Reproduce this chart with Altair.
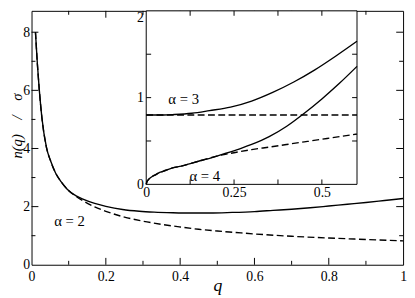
import altair as alt
import pandas as pd

# ---- main panel, alpha = 2 ----
q_full = [0.0106, 0.0158, 0.021, 0.028, 0.040, 0.052, 0.065, 0.080, 0.096, 0.12, 0.14, 0.17,
          0.20, 0.245, 0.29, 0.33, 0.38, 0.43, 0.48, 0.54, 0.60, 0.65, 0.70, 0.75, 0.80,
          0.85, 0.90, 0.95, 1.00]
n_full = [8.00, 6.90, 6.00, 5.05, 4.05, 3.55, 3.15, 2.85, 2.60, 2.37, 2.25, 2.11,
          2.01, 1.90, 1.84, 1.81, 1.79, 1.78, 1.78, 1.80, 1.83, 1.87, 1.91, 1.96, 2.02,
          2.08, 2.14, 2.21, 2.28]
q_dash = [0.0106, 0.0158, 0.021, 0.028, 0.040, 0.052, 0.065, 0.080, 0.096, 0.12, 0.14, 0.17,
          0.20, 0.25, 0.30, 0.35, 0.40, 0.45, 0.50, 0.55, 0.60, 0.70, 0.80, 0.90, 1.00]
n_dash = [8.00, 6.90, 6.00, 5.05, 4.05, 3.55, 3.15, 2.85, 2.60, 2.35, 2.19, 1.99,
          1.84, 1.64, 1.50, 1.39, 1.30, 1.22, 1.16, 1.11, 1.06, 0.98, 0.92, 0.87, 0.82]

# ---- inset, alpha = 3 and alpha = 4 ----
q3_full = [0.0, 0.05, 0.08, 0.13, 0.18, 0.24, 0.30, 0.36, 0.42, 0.48, 0.54, 0.60]
n3_full = [0.80, 0.80, 0.805, 0.82, 0.85, 0.89, 0.96, 1.06, 1.18, 1.32, 1.48, 1.65]
q3_dash = [0.0, 0.60]
n3_dash = [0.80, 0.80]
q4_full = [0.0, 0.002, 0.0075, 0.015, 0.026, 0.04, 0.054, 0.075, 0.10, 0.13, 0.156, 0.185,
           0.212, 0.24, 0.27, 0.30, 0.35, 0.40, 0.45, 0.50, 0.55, 0.60]
n4_full = [0.0, 0.03, 0.06, 0.085, 0.11, 0.14, 0.16, 0.19, 0.21, 0.245, 0.275, 0.305,
           0.34, 0.375, 0.415, 0.46, 0.55, 0.67, 0.82, 0.985, 1.165, 1.36]
q4_dash = [0.0, 0.002, 0.0075, 0.015, 0.026, 0.04, 0.054, 0.075, 0.10, 0.13, 0.156, 0.20,
           0.25, 0.30, 0.35, 0.40, 0.45, 0.50, 0.55, 0.60]
n4_dash = [0.0, 0.03, 0.06, 0.085, 0.11, 0.14, 0.16, 0.19, 0.21, 0.245, 0.275, 0.325,
           0.365, 0.40, 0.43, 0.46, 0.49, 0.52, 0.55, 0.58]

# axis ticks / labels
main_x_labels = [0, 0.2, 0.4, 0.6, 0.8, 1]
main_y_labels = [0, 2, 4, 6, 8]
main_x_major = [0.2, 0.4, 0.6, 0.8]
main_x_minor = [0.1, 0.3, 0.5, 0.7, 0.9]
main_y_major = [2, 4, 6, 8]
main_y_minor = [1, 3, 5, 7]
in_x_labels = [0, 0.25, 0.5]
in_y_labels = [0, 1, 2]
in_x_ticks = [0.125, 0.25, 0.375, 0.5]
in_y_ticks = [0.5, 1, 1.5]

labels_main = {"q": [0.061], "n": [1.35], "t": ["α = 2"]}
labels_inset = {"q": [0.063, 0.123], "n": [0.93, 0.04], "t": ["α = 3", "α = 4"]}

FONT = "Liberation Serif"
W, H = 379, 259
YMAX = 8.735
IN_XMAX, IN_YMAX = 0.6, 2.0

xs = alt.Scale(domain=[0, 1], nice=False, zero=False)
ys = alt.Scale(domain=[0, YMAX], nice=False, zero=False)
ixs = alt.Scale(domain=[0, IN_XMAX], range=[117, 332], nice=False, zero=False)
iys = alt.Scale(domain=[0, IN_YMAX], range=[177, 0], nice=False, zero=False)


def df(q, n):
    return pd.DataFrame({"q": q, "n": n})


def line(data, dashed, sx, sy, xaxis=None, yaxis=None):
    kw = dict(color="black", strokeWidth=1.4, interpolate="monotone")
    if dashed:
        kw["strokeDash"] = [7, 3.5]
    xenc = alt.X("q:Q", scale=sx) if xaxis is None else alt.X("q:Q", scale=sx, axis=xaxis)
    yenc = alt.Y("n:Q", scale=sy) if yaxis is None else alt.Y("n:Q", scale=sy, axis=yaxis)
    return alt.Chart(data).mark_line(**kw).encode(x=xenc, y=yenc)


def xticks(vals, sx, sy, ypos, off):
    return alt.Chart(pd.DataFrame({"q": vals})).mark_rule(
        color="black", strokeWidth=1, y2Offset=off
    ).encode(x=alt.X("q:Q", scale=sx), y=alt.Y(datum=ypos, scale=sy), y2=alt.Y2(datum=ypos))


def yticks(vals, sx, sy, xpos, off):
    return alt.Chart(pd.DataFrame({"n": vals})).mark_rule(
        color="black", strokeWidth=1, x2Offset=off
    ).encode(y=alt.Y("n:Q", scale=sy), x=alt.X(datum=xpos, scale=sx), x2=alt.X2(datum=xpos))


main_xaxis = alt.Axis(values=main_x_labels, format="~g", labelPadding=5, title="q",
                      titleFontStyle="italic", titleFontSize=18, titleFontWeight="normal",
                      titleY=26, titleBaseline="alphabetic")
main_yaxis = alt.Axis(values=main_y_labels, format="~g", labelPadding=2,
                      title="n(q)\u2003/\u2003σ",
                      titleFontStyle="italic", titleFontSize=15, titleFontWeight="normal",
                      titleAngle=270, titleX=-10.5, titleY=117, titleAlign="center",
                      titleBaseline="alphabetic")

main = alt.layer(
    line(df(q_full, n_full), False, xs, ys, main_xaxis, main_yaxis),
    line(df(q_dash, n_dash), True, xs, ys),
    xticks(main_x_major, xs, ys, 0, -7),
    xticks(main_x_minor, xs, ys, 0, -4),
    xticks(main_x_major, xs, ys, YMAX, 7),
    xticks(main_x_minor, xs, ys, YMAX, 4),
    yticks(main_y_major, xs, ys, 0, 7),
    yticks(main_y_minor, xs, ys, 0, 4),
    yticks(main_y_major, xs, ys, 1, -7),
    yticks(main_y_minor, xs, ys, 1, -4),
    alt.Chart(pd.DataFrame(labels_main)).mark_text(
        font=FONT, fontSize=15, align="left", baseline="alphabetic", color="black"
    ).encode(x=alt.X("q:Q", scale=xs), y=alt.Y("n:Q", scale=ys), text="t:N"),
)

in_xaxis = alt.Axis(orient="bottom", offset=-82, values=in_x_labels, format="~g",
                    labelPadding=1, title=None)
in_yaxis = alt.Axis(orient="left", offset=-117, values=in_y_labels, format="~g",
                    labelPadding=3, title=None,
                    labelBaseline={"condition": {"test": "datum.value == 2", "value": "top"},
                                   "value": "middle"})

frame = alt.Chart(pd.DataFrame({"a": [0]})).mark_rect(
    fill="white", stroke="black", strokeWidth=1
).encode(
    x=alt.X(datum=0, scale=ixs, axis=in_xaxis), x2=alt.X2(datum=IN_XMAX),
    y=alt.Y(datum=0, scale=iys, axis=in_yaxis), y2=alt.Y2(datum=IN_YMAX),
)

inset = alt.layer(
    frame,
    line(df(q3_dash, n3_dash), True, ixs, iys),
    line(df(q4_dash, n4_dash), True, ixs, iys),
    line(df(q3_full, n3_full), False, ixs, iys),
    line(df(q4_full, n4_full), False, ixs, iys),
    xticks(in_x_ticks, ixs, iys, 0, -5),
    xticks(in_x_ticks, ixs, iys, IN_YMAX, 5),
    yticks(in_y_ticks, ixs, iys, 0, 5),
    yticks(in_y_ticks, ixs, iys, IN_XMAX, -5),
    alt.Chart(pd.DataFrame(labels_inset)).mark_text(
        font=FONT, fontSize=15, align="left", baseline="alphabetic", color="black"
    ).encode(x=alt.X("q:Q", scale=ixs), y=alt.Y("n:Q", scale=iys), text="t:N"),
)

chart = alt.layer(main, inset).resolve_scale(
    x="independent", y="independent"
).properties(
    width=W, height=H,
    autosize=alt.AutoSizeParams(type="none"),
    padding={"left": 24, "top": 0, "right": 4, "bottom": 31},
).configure_view(
    stroke="black", strokeWidth=1
).configure_axis(
    grid=False, ticks=False, domain=False, labelFont=FONT, labelFontSize=14,
    labelColor="black", titleFont=FONT, titleColor="black",
    labelFlush=False, labelOverlap=False,
)

chart.save("out.html", embed_options={"renderer": "svg", "actions": False})
